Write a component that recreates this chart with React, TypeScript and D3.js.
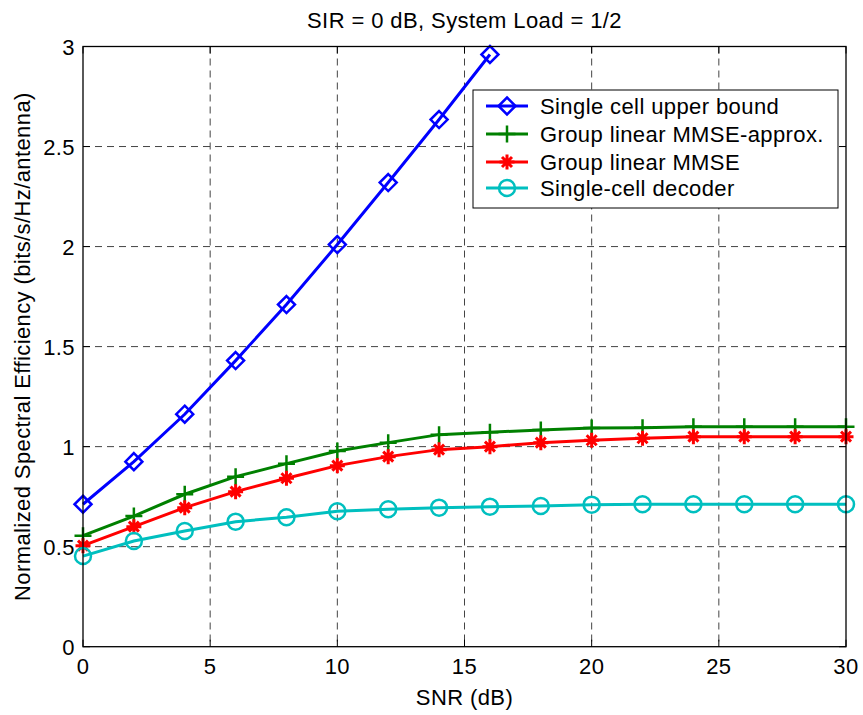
import React from "react";
import * as d3 from "d3";

const snr = [0, 2, 4, 6, 8, 10, 12, 14, 16, 18, 20, 22, 24, 26, 28, 30];
const upperBoundSnr = [0, 2, 4, 6, 8, 10, 12, 14, 16];
const upperBound = [0.712, 0.925, 1.162, 1.43, 1.71, 2.01, 2.32, 2.635, 2.96];
const mmseApprox = [0.555, 0.653, 0.762, 0.85, 0.915, 0.978, 1.02, 1.06, 1.072, 1.083, 1.093, 1.095, 1.1, 1.1, 1.1, 1.1];
const mmse = [0.505, 0.6, 0.695, 0.775, 0.842, 0.905, 0.95, 0.985, 1.0, 1.02, 1.032, 1.042, 1.05, 1.05, 1.05, 1.05];
const singleCell = [0.453, 0.528, 0.578, 0.625, 0.647, 0.677, 0.687, 0.695, 0.7, 0.703, 0.71, 0.712, 0.712, 0.712, 0.712, 0.712];
const xTicks = [0, 5, 10, 15, 20, 25, 30];
const yTicks = [0, 0.5, 1, 1.5, 2, 2.5, 3];
const legendLabels = ["Single cell upper bound", "Group linear MMSE-approx.", "Group linear MMSE", "Single-cell decoder"];

const W = 863, H = 715;
const L = 83, R = 846, T = 46.5, B = 646.7;
const FONT = "'Liberation Sans', Arial, sans-serif";
const FS = 22;
const LS = 0.4;

function Marker({ type, x, y, color }: { type: string; x: number; y: number; color: string }) {
  if (type === "diamond") {
    const s = 8.5;
    return <path d={`M${x},${y - s}L${x + s},${y}L${x},${y + s}L${x - s},${y}Z`} fill="none" stroke={color} strokeWidth={2.5} />;
  }
  if (type === "plus") {
    const s = 8.5;
    return <path d={`M${x - s},${y}L${x + s},${y}M${x},${y - s}L${x},${y + s}`} stroke={color} strokeWidth={2.5} fill="none" />;
  }
  if (type === "star") {
    const s = 7.5, d = 5;
    return (
      <path
        d={`M${x - s},${y}L${x + s},${y}M${x},${y - s}L${x},${y + s}M${x - d},${y - d}L${x + d},${y + d}M${x - d},${y + d}L${x + d},${y - d}`}
        stroke={color}
        strokeWidth={3}
        fill="none"
      />
    );
  }
  return <circle cx={x} cy={y} r={8} fill="none" stroke={color} strokeWidth={2.5} />;
}

export default function App() {
  const x = d3.scaleLinear().domain([0, 30]).range([L, R]);
  const y = d3.scaleLinear().domain([0, 3]).range([B, T]);
  const line = d3.line<[number, number]>().x((d) => x(d[0])).y((d) => y(d[1]));

  const series = [
    { xs: upperBoundSnr, ys: upperBound, color: "#0000ff", marker: "diamond" },
    { xs: snr, ys: mmseApprox, color: "#008000", marker: "plus" },
    { xs: snr, ys: mmse, color: "#ff0000", marker: "star" },
    { xs: snr, ys: singleCell, color: "#00bfbf", marker: "circle" },
  ];

  const legX = 473, legY = 90, legW = 365, legH = 118;
  const legRows = [106, 134, 162, 188];
  const txt = { fontSize: FS, fontFamily: FONT, fill: "#000", letterSpacing: LS };

  return (
    <svg width={W} height={H} style={{ display: "block", position: "absolute", left: 0, top: 0, background: "#fff" }}>
      <rect x={0} y={0} width={W} height={H} fill="#fff" />
      {/* grid */}
      {xTicks.slice(1, -1).map((t) => (
        <line key={"gx" + t} x1={x(t)} x2={x(t)} y1={T} y2={B} stroke="#444" strokeWidth={1} strokeDasharray="7,5" />
      ))}
      {yTicks.slice(1, -1).map((t) => (
        <line key={"gy" + t} x1={L} x2={R} y1={y(t)} y2={y(t)} stroke="#444" strokeWidth={1} strokeDasharray="7,5" />
      ))}
      {/* ticks */}
      {xTicks.map((t) => (
        <g key={"tx" + t}>
          <line x1={x(t)} x2={x(t)} y1={B} y2={B - 7} stroke="#000" />
          <line x1={x(t)} x2={x(t)} y1={T} y2={T + 7} stroke="#000" />
          <text x={x(t)} y={674} textAnchor="middle" {...txt}>
            {t}
          </text>
        </g>
      ))}
      {yTicks.map((t) => (
        <g key={"ty" + t}>
          <line x1={L} x2={L + 7} y1={y(t)} y2={y(t)} stroke="#000" />
          <line x1={R} x2={R - 7} y1={y(t)} y2={y(t)} stroke="#000" />
          <text x={75} y={y(t) + 8} textAnchor="end" {...txt}>
            {t}
          </text>
        </g>
      ))}
      {/* series */}
      {series.map((s, i) => {
        const pts = s.xs.map((v, j) => [v, s.ys[j]] as [number, number]);
        return (
          <g key={"s" + i}>
            <path d={line(pts) || ""} fill="none" stroke={s.color} strokeWidth={3} />
            {pts.map((p, j) => (
              <Marker key={j} type={s.marker} x={x(p[0])} y={y(p[1])} color={s.color} />
            ))}
          </g>
        );
      })}
      {/* frame */}
      <rect x={L} y={T} width={R - L} height={B - T} fill="none" stroke="#000" strokeWidth={1.3} />
      {/* legend */}
      <rect x={legX} y={legY} width={legW} height={legH} fill="#fff" stroke="#000" strokeWidth={1} />
      {series.map((s, i) => (
        <g key={"l" + i}>
          <line x1={486} x2={528} y1={legRows[i]} y2={legRows[i]} stroke={s.color} strokeWidth={3} />
          <Marker type={s.marker} x={507} y={legRows[i]} color={s.color} />
          <text x={540} y={legRows[i] + 8} {...txt}>
            {legendLabels[i]}
          </text>
        </g>
      ))}
      {/* titles */}
      <text x={(L + R) / 2} y={28} textAnchor="middle" {...txt}>
        SIR = 0 dB, System Load = 1/2
      </text>
      <text x={(L + R) / 2} y={705} textAnchor="middle" {...txt}>
        SNR (dB)
      </text>
      <text transform={`translate(30,${(T + B) / 2}) rotate(-90)`} textAnchor="middle" {...txt}>
        Normalized Spectral Efficiency (bits/s/Hz/antenna)
      </text>
    </svg>
  );
}
